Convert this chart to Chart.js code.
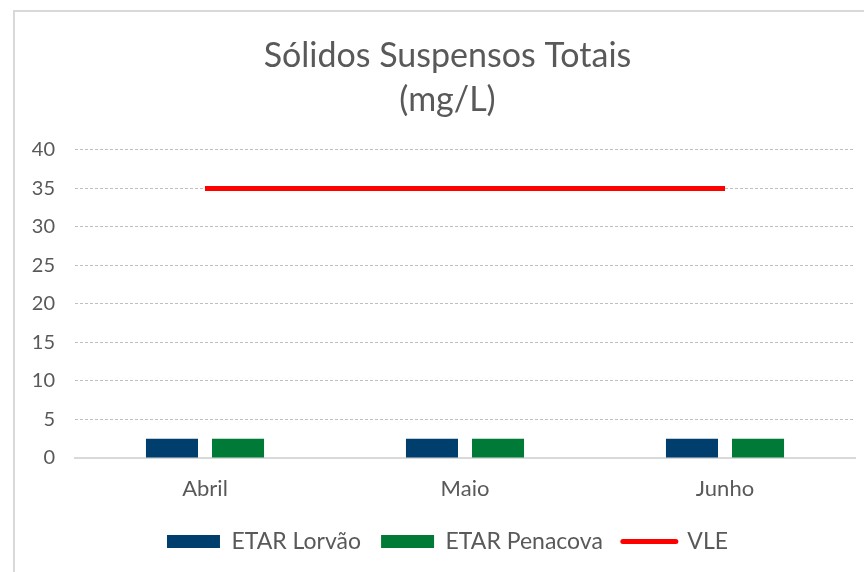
<!DOCTYPE html>
<html>
<head>
<meta charset="utf-8">
<script src="https://cdn.jsdelivr.net/npm/chart.js@4"></script>
<style>
  html, body { margin: 0; padding: 0; background: #fff; overflow: hidden; }
  #frame { position: absolute; left: 13px; top: 10px; width: 900px; height: 600px;
           border-top: 2px solid #d9d9d9; border-left: 2px solid #d9d9d9; }
  #wrap { position: absolute; left: 0; top: 0; width: 865px; height: 560px; }
</style>
</head>
<body>
<div id="frame"><div id="wrap"><canvas id="chart"></canvas></div></div>
<script>
const months = ['Abril', 'Maio', 'Junho'];
const lorvao = [2.5, 2.5, 2.5];
const penacova = [2.5, 2.5, 2.5];
const vle = [35, 35, 35];
const yTicks = [0, 5, 10, 15, 20, 25, 30, 35, 40];

const txt = '#595959';
const fontFam = 'Lato, "Open Sans", sans-serif';

// y labels sit left of the layout padding, so open up their clip area
const widenAxis = {
    id: 'widenAxis',
    afterLayout: chart => { chart.scales.y.left = 0; }
};

new Chart(document.getElementById('chart'), {
    data: {
        labels: months,
        datasets: [
            { type: 'bar', label: 'ETAR Lorvão', data: lorvao, backgroundColor: '#003E6E',
              categoryPercentage: 0.508, barPercentage: 0.788, order: 2 },
            { type: 'bar', label: 'ETAR Penacova', data: penacova, backgroundColor: '#007A37',
              categoryPercentage: 0.508, barPercentage: 0.788, order: 2 },
            { type: 'line', label: 'VLE', data: vle, borderColor: '#FF0000', backgroundColor: '#FF0000',
              borderWidth: 5, pointRadius: 0, order: 1 }
        ]
    },
    plugins: [widenAxis],
    options: {
        responsive: true, maintainAspectRatio: false, animation: false,
        layout: { padding: { left: 25, right: 25, top: 0, bottom: 9 } },
        plugins: {
            title: {
                display: true, text: ['Sólidos Suspensos Totais', '(mg/L)'],
                color: txt, font: { family: fontFam, size: 34, weight: 'normal', lineHeight: 1.294 },
                padding: { top: 22, bottom: 28 }
            },
            legend: {
                position: 'bottom',
                labels: {
                    color: txt, font: { family: fontFam, size: 23 },
                    usePointStyle: true, pointStyleWidth: 53, boxHeight: 13, padding: 20,
                    generateLabels: chart => chart.data.datasets.map((ds, i) => ({
                        text: ds.label, datasetIndex: i,
                        fillStyle: ds.backgroundColor, strokeStyle: ds.borderColor || ds.backgroundColor,
                        lineWidth: ds.type === 'line' ? 5 : 0, lineCap: 'round',
                        pointStyle: ds.type === 'line' ? 'line' : 'rect',
                        fontColor: txt
                    }))
                }
            },
            tooltip: { enabled: false }
        },
        scales: {
            x: {
                grid: { display: false, drawTicks: false },
                border: { display: true, color: '#d9d9d9', width: 2 },
                ticks: { color: txt, font: { family: fontFam, size: 22 }, padding: 18 },
                afterFit: s => { s.height = 52; }
            },
            y: {
                min: 0, max: 40,
                afterBuildTicks: s => { s.ticks = yTicks.map(v => ({ value: v })); },
                grid: {
                    drawTicks: false,
                    color: c => c.tick.value === 0 ? 'rgba(0,0,0,0)' : '#bfbfbf'
                },
                border: { display: false, dash: [3, 2] },
                ticks: { color: txt, font: { family: fontFam, size: 20 }, padding: 20 },
                afterFit: s => { s.width = 35; }
            }
        }
    }
});
</script>
</body>
</html>
